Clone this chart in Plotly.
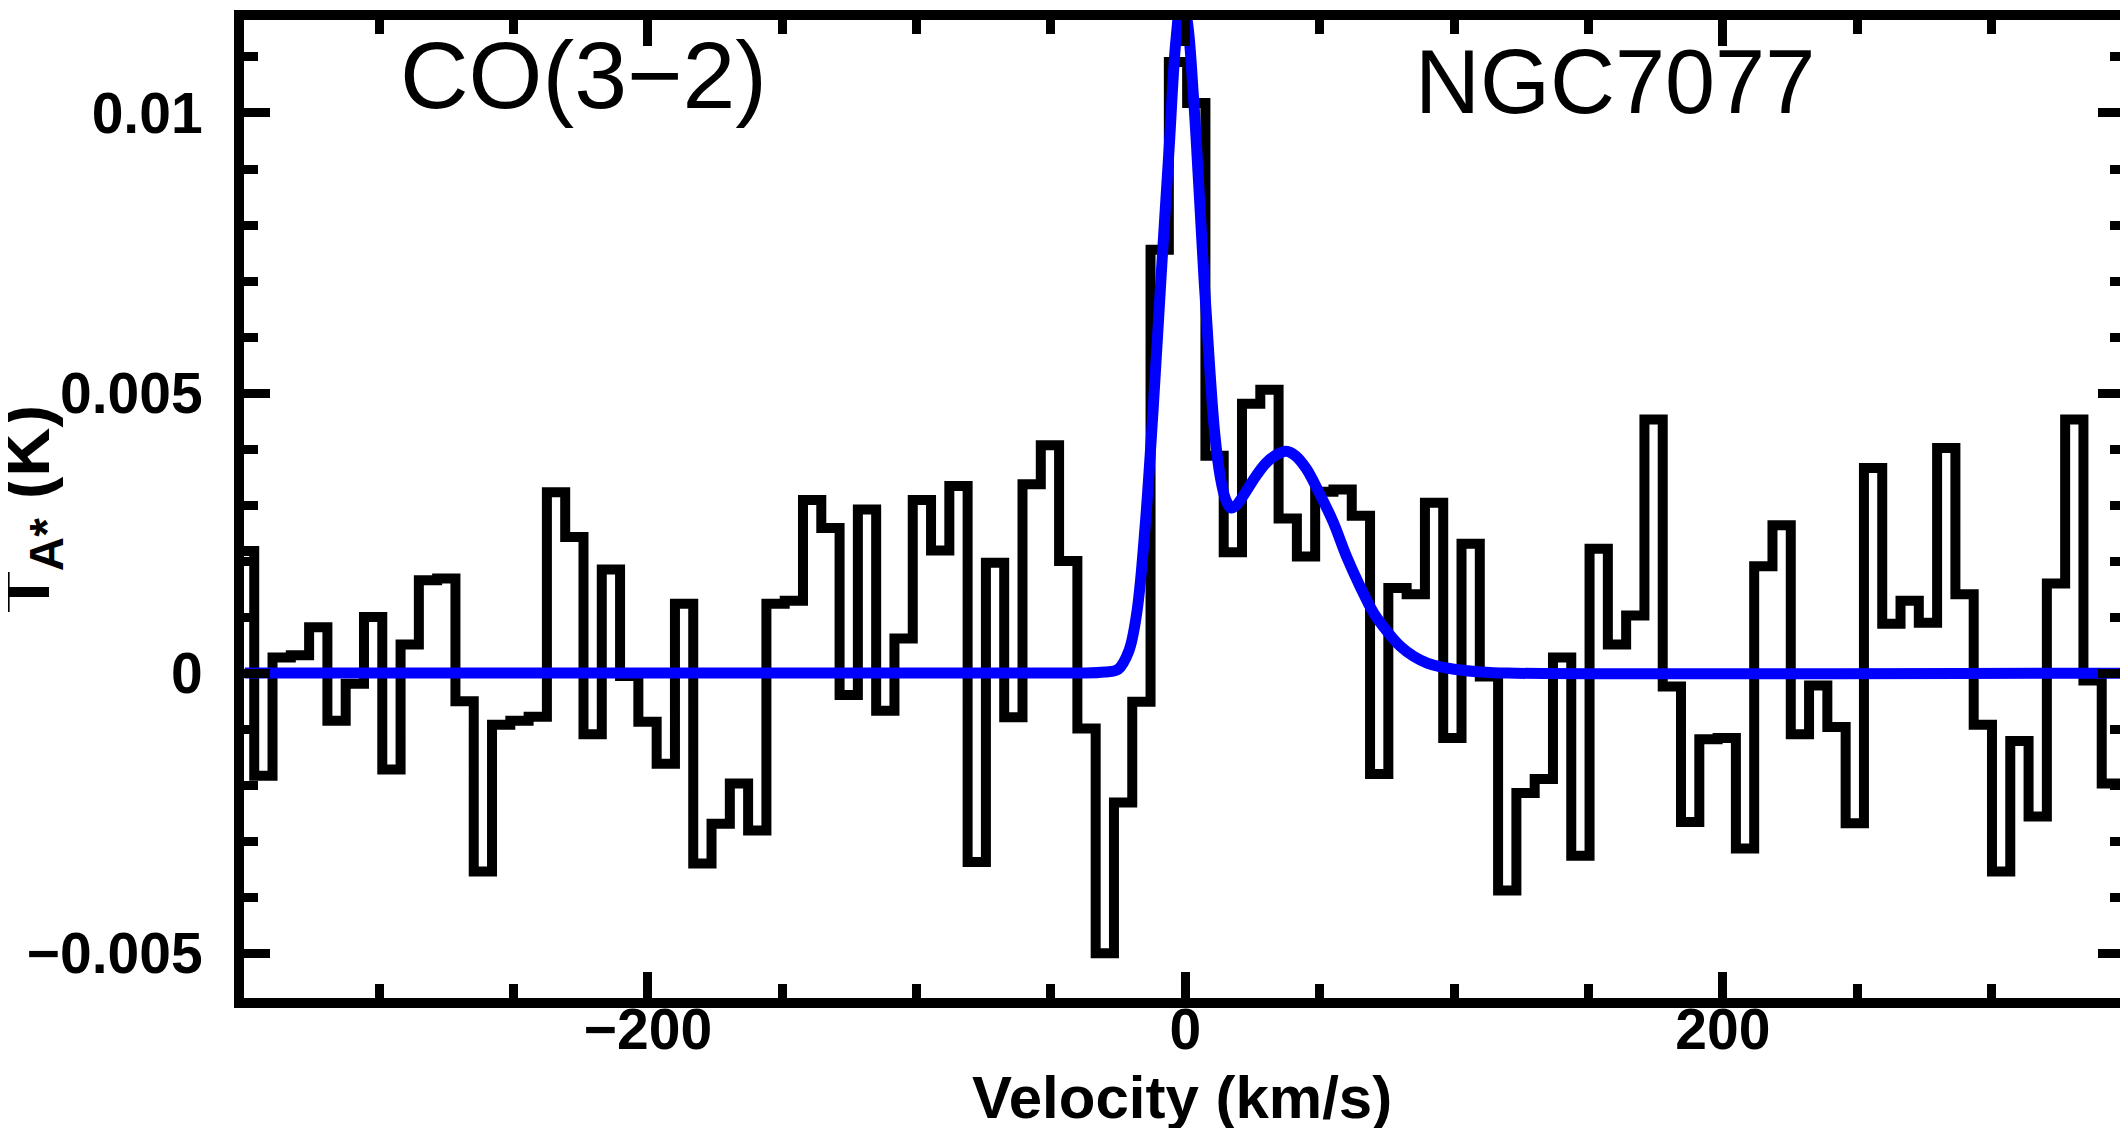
import numpy as np
import plotly.graph_objects as go

# CO(3-2) spectrum of NGC7077: antenna temperature of each channel, in mK
chan_first_edge = -353.3   # km/s, low edge of the first channel
chan_width = 6.807         # km/s
ta_mk = [
    2.18, -1.83, 0.28, 0.32, 0.82, -0.85, -0.19, 1.00, -1.72, 0.51,
    1.66, 1.69, -0.50, -3.54, -0.92, -0.85, -0.78, 3.23, 2.43, -1.09,
    1.85, -0.05, -0.87, -1.62, 1.24, -3.40, -2.69, -1.97, -2.81, 1.24,
    1.29, 3.09, 2.59, -0.39, 2.92, -0.67, 0.62, 3.09, 2.19, 3.34,
    -3.37, 1.97, -0.79, 3.37, 4.07, 2.00, -0.99, -5.00, -2.31, -0.51,
    7.56, 10.91, 10.18, 3.88, 2.16, 4.81, 5.06, 2.76, 2.08, 3.24,
    3.28, 2.81, -1.80, 1.52, 1.41, 3.04, -1.16, 2.31, -0.06, -3.88,
    -2.14, -1.89, 0.28, -3.26, 2.22, 0.51, 1.03, 4.53, -0.24, -2.66,
    -1.18, -1.16, -3.13, 1.91, 2.64, -1.09, -0.22, -0.96, -2.68, 3.66,
    0.88, 1.29, 0.90, 4.02, 1.41, -0.92, -3.54, -1.21, -2.56, 1.60,
    4.53, -0.13, -1.97,
]

# two-component gaussian fit (km/s, mK)
fit_v = [-350, -40, -30, -25, -21, -18, -15, -12, -9, -6, -3.5, -1.5, 0.5,
         3, 5, 7, 9, 11, 13, 15, 17, 19, 22, 26, 30, 34, 37.5, 41, 45, 50,
         55, 60, 65, 70, 75, 80, 85, 90, 95, 100, 110, 120, 350]
fit_mk = [0, 0, 0.02, 0.07, 0.4, 1.1, 2.6, 4.7, 7.1, 9.4, 11.3, 12.0, 11.7,
          10.3, 8.7, 7.0, 5.5, 4.25, 3.5, 3.1, 2.95, 3.0, 3.2, 3.5, 3.75, 3.9, 3.96, 3.88, 3.65, 3.2,
          2.7, 2.08, 1.55, 1.08, 0.75, 0.48, 0.3, 0.18, 0.11, 0.07, 0.02, 0, 0]

x_range = [-350.3, 349.3]
y_range = [-0.0058, 0.01166]

font_family = 'Liberation Sans, Arial, sans-serif'

edges = chan_first_edge + chan_width * np.arange(len(ta_mk) + 1)
ta = np.array(ta_mk + [ta_mk[-1]]) * 1e-3
fit = np.array(fit_mk) * 1e-3

fig = go.Figure()
fig.add_trace(go.Scatter(x=edges, y=ta, mode='lines',
                         line=dict(color='black', width=10, shape='hv'),
                         showlegend=False))
fig.add_trace(go.Scatter(x=fit_v, y=fit, mode='lines',
                         line=dict(color='#0000ff', width=11, shape='spline'),
                         showlegend=False))

axis_style = dict(
    showline=True, linecolor='black', linewidth=10, mirror='ticks',
    ticks='inside', tickcolor='black', tickwidth=9, ticklen=26,
    showgrid=False, zeroline=False,
    tickfont=dict(family=font_family, size=57, color='black', weight='bold'),
)
fig.update_xaxes(range=x_range, tick0=0, dtick=200, ticklabelstandoff=-27,
                 minor=dict(dtick=50, ticks='inside', ticklen=14, tickwidth=9,
                            tickcolor='black', showgrid=False),
                 **axis_style)
fig.update_yaxes(range=y_range, tick0=0, dtick=0.005, ticklabelstandoff=20,
                 minor=dict(dtick=0.001, ticks='inside', ticklen=14, tickwidth=9,
                            tickcolor='black', showgrid=False),
                 **axis_style)

fig.add_annotation(x=-224, y=0.01067, text='CO(3\u22122)', showarrow=False,
                   xanchor='center', yanchor='middle',
                   font=dict(family=font_family, size=95, color='black'))
fig.add_annotation(x=160, y=0.01055, text='NGC7077', showarrow=False,
                   xanchor='center', yanchor='middle',
                   font=dict(family=font_family, size=90, color='black'))
fig.add_annotation(xref='paper', yref='paper', x=0.4992, y=-0.102,
                   text='Velocity (km/s)', showarrow=False,
                   xanchor='center', yanchor='middle',
                   font=dict(family=font_family, size=60, color='black', weight='bold'))
fig.add_annotation(xref='paper', yref='paper', x=-0.114, y=0.5,
                   text='T<sub>A*</sub> (K)', showarrow=False, textangle=-90,
                   xanchor='center', yanchor='middle',
                   font=dict(family=font_family, size=68, color='black', weight='bold'))

fig.update_layout(
    width=2128, height=1128,
    margin=dict(l=236, r=5, t=2, b=138),
    paper_bgcolor='white', plot_bgcolor='white',
    showlegend=False,
)

fig.write_html("out.html")
